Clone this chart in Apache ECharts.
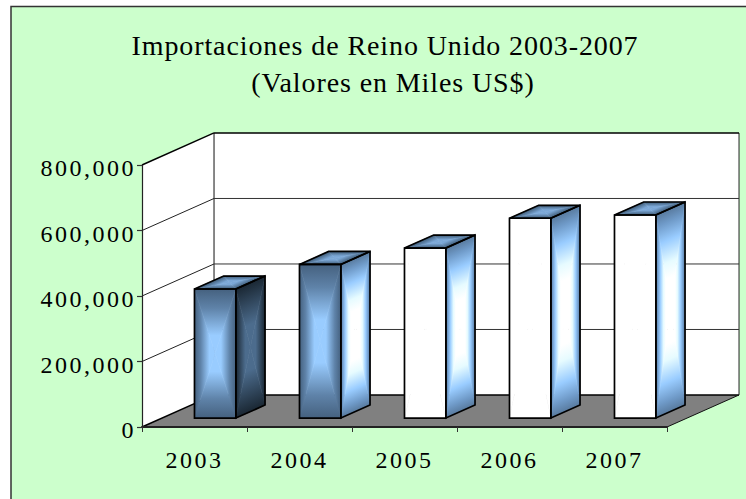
<!DOCTYPE html>
<html><head><meta charset="utf-8">
<style>
html,body{margin:0;padding:0;background:#fff}
#c{width:746px;height:499px}
svg text{letter-spacing:2.5px}
svg text[style*="28px"]{letter-spacing:0.9px}
</style>
<script src="https://cdn.jsdelivr.net/npm/echarts@6/dist/echarts.min.js"></script>
</head><body><div id="c"></div>
<script>
const categories = ['2003','2004','2005','2006','2007'];
const importValues = [394000,469000,519000,610000,620000];
const gridTicks = [0,200000,400000,600000,800000];
const titleLines = ['Importaciones de Reino Unido 2003-2007','(Valores en Miles US$)'];

// style tables (per category)
const WHITE=[[0,'#ffffff'],[1,'#ffffff']];
const BLUE=[[0,'#45617f'],[0.3,'#5f83a9'],[0.72,'#99ccff'],[1,'#99ccff']];
const frontFill=[BLUE,BLUE,WHITE,WHITE,WHITE];
const DARKSIDE=[[0,'#1a2733'],[0.65,'#4c6c8d'],[1,'#4c6c8d']];
const LIGHTSIDE=[[0,'#587a9e'],[0.12,'#6f9ac8'],[0.3,'#99ccff'],[0.52,'#e6fbff'],[0.68,'#ffffff'],[1,'#ffffff']];
const sideFill=[DARKSIDE,LIGHTSIDE,LIGHTSIDE,LIGHTSIDE,LIGHTSIDE];
const TOP=[[0,'#3d5974'],[0.7,'#7ba7d6'],[1,'#7ba7d6']];

// projection, relative to one category's width
const DX=0.686, DY=-0.305, BAR_HALF=0.197, BAR_CENTER_DEPTH=0.28, BAR_DEPTH=0.405;

function tri(a,b,c,stops){
  const ex=b[0]-a[0],ey=b[1]-a[1];
  const t=((c[0]-a[0])*ex+(c[1]-a[1])*ey)/(ex*ex+ey*ey);
  const fx=a[0]+t*ex,fy=a[1]+t*ey;
  const g={type:'linear',x:fx,y:fy,x2:c[0],y2:c[1],global:true,
    colorStops:stops.map(s=>({offset:s[0],color:s[1]}))};
  return {type:'polygon',shape:{points:[a,b,c]},style:{fill:g,stroke:g,lineWidth:0.6}};
}
function face(p,stops){
  const c=[(p[0][0]+p[1][0]+p[2][0]+p[3][0])/4,(p[0][1]+p[1][1]+p[2][1]+p[3][1])/4];
  return [tri(p[0],p[1],c,stops),tri(p[1],p[2],c,stops),tri(p[2],p[3],c,stops),tri(p[3],p[0],c,stops)];
}
function outline(p,w){
  return {type:'polygon',shape:{points:p},style:{fill:'none',stroke:'#000',lineWidth:w,lineJoin:'miter'}};
}
function poly(p,fill,stroke,w){
  return {type:'polygon',shape:{points:p},style:{fill:fill,stroke:stroke,lineWidth:w}};
}
function line(a,b,col,w){
  return {type:'line',shape:{x1:a[0],y1:a[1],x2:b[0],y2:b[1]},style:{stroke:col,lineWidth:w}};
}

function renderWalls(params,api){
  const n=categories.length, w=api.size([1,0])[0];
  const dx=w*DX, dy=w*DY;
  const bl=api.coord([0,0]); bl[0]-=w/2;
  const br=api.coord([n-1,0]); br[0]+=w/2;
  const tl=api.coord([0,gridTicks[gridTicks.length-1]]); tl[0]-=w/2;
  const back=p=>[p[0]+dx,p[1]+dy];
  const tr=[br[0],tl[1]];
  return {type:'group',children:[
    poly([tl,back(tl),back(bl),bl],'#fff','none',0),
    poly([back(tl),back(tr),back(br),back(bl)],'#fff','none',0),
    poly([bl,br,back(br),back(bl)],'#808080','none',0),
    line(back(bl),back(br),'#000',1.6),
    line(br,back(br),'#111',1),
    line(bl,back(bl),'#000',1.4),
    line(back(tl),back(bl),'#111',1),
    line(back(tr),back(br),'#222',1),
    line(back(tl),back(tr),'#000',1.4),
    line(tl,back(tl),'#000',1.4)
  ]};
}
function renderGrid(params,api){
  const n=categories.length, w=api.size([1,0])[0];
  const v=api.value(0);
  if(v===0||v===gridTicks[gridTicks.length-1]) return {type:'group',children:[]};
  const l=api.coord([0,v]); l[0]-=w/2;
  const r=api.coord([n-1,v]); r[0]+=w/2;
  const b=[l[0]+w*DX,l[1]+w*DY], e=[r[0]+w*DX,r[1]+w*DY];
  return {type:'group',children:[line(l,b,'#222',1),line(b,e,'#333',1)]};
}
function renderBar(params,api){
  const i=api.value(0), v=api.value(1);
  const w=api.size([1,0])[0];
  const c0=api.coord([i,0]), c1=api.coord([i,v]);
  const ox=w*DX*BAR_CENTER_DEPTH, oy=w*DY*BAR_CENTER_DEPTH;
  const hw=w*BAR_HALF, ddx=w*DX*BAR_DEPTH, ddy=w*DY*BAR_DEPTH;
  const fx0=c0[0]+ox-hw+0.5, fx1=c0[0]+ox+hw+0.5;
  const yb=c0[1]+oy, yt=c1[1]+oy;
  const f=[[fx0,yt],[fx1,yt],[fx1,yb],[fx0,yb]];
  const s=[[fx1,yt],[fx1+ddx,yt+ddy],[fx1+ddx,yb+ddy],[fx1,yb]];
  const t=[[fx0+ddx,yt+ddy],[fx1+ddx,yt+ddy],[fx1,yt],[fx0,yt]];
  return {type:'group',children:[
    ...face(f,frontFill[i]),
    ...face(s,sideFill[i]),
    ...face(t,TOP),
    outline(s,1.7),outline(t,1.7),outline(f,1.7)
  ]};
}

const titleStyle={fontFamily:'Liberation Serif',fontSize:28,fontWeight:'normal',color:'#000'};
const chart=echarts.init(document.getElementById('c'),null,{renderer:'svg'});
chart.setOption({
  animation:false,
  backgroundColor:'#fff',
  graphic:[{type:'rect',z:-10,shape:{x:11,y:6.5,width:745,height:505},
    style:{fill:'#CCFFCC',stroke:'#333',lineWidth:1.5}}],
  title:[
    {text:titleLines[0],left:380,top:26,textAlign:'center',textStyle:titleStyle},
    {text:titleLines[1],left:388,top:63,textAlign:'center',textStyle:titleStyle}
  ],
  grid:{left:142,top:165,width:525,height:262,containLabel:false},
  xAxis:{type:'category',data:categories,z:5,
    axisLine:{lineStyle:{color:'#222',width:2}},
    axisTick:{show:true,length:5,lineStyle:{color:'#333',width:1}},
    axisLabel:{fontFamily:'Liberation Serif',fontSize:24,color:'#000',margin:21}},
  yAxis:{type:'value',min:0,max:800000,interval:200000,z:5,
    axisLine:{show:true,lineStyle:{color:'#222',width:1.2}},
    axisTick:{show:true,length:5,lineStyle:{color:'#333',width:1.2}},
    splitLine:{show:false},
    axisLabel:{fontFamily:'Liberation Serif',fontSize:24,color:'#000',margin:6,verticalAlign:'top',padding:[-9,0,0,0]}},
  series:[
    {type:'custom',name:'walls',clip:false,z:1,silent:true,data:[[0]],renderItem:renderWalls,encode:{y:0}},
    {type:'custom',name:'grid',clip:false,z:2,silent:true,data:gridTicks.map(t=>[t]),renderItem:renderGrid,encode:{y:0}},
    {type:'custom',name:'Importaciones',clip:false,z:3,
      data:importValues.map((v,i)=>[i,v]),renderItem:renderBar,encode:{x:0,y:1}}
  ]
});
</script></body></html>
